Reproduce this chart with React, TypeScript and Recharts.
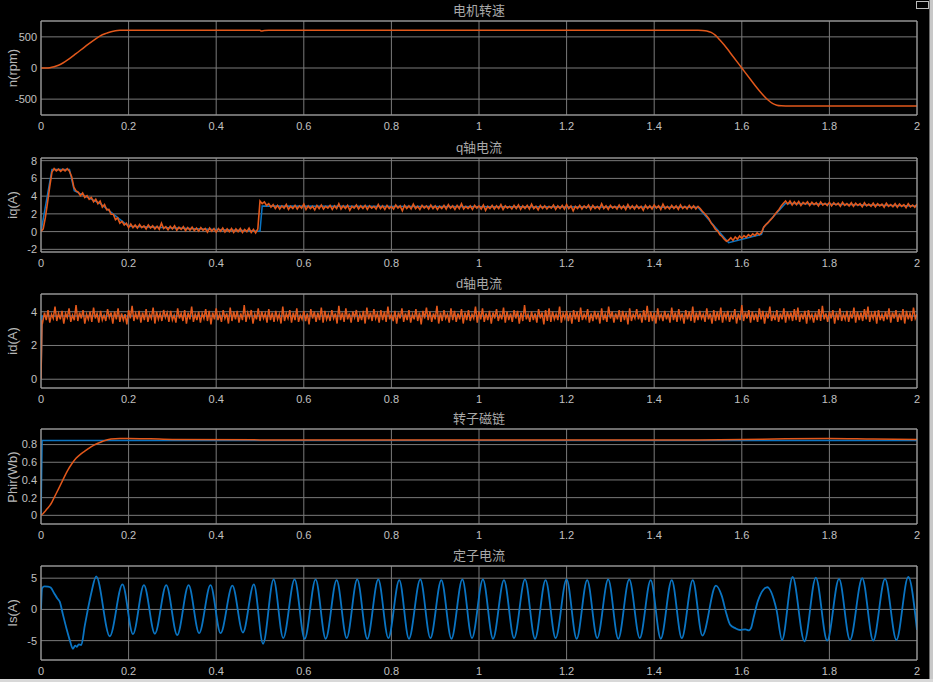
import React from "react";
import { LineChart, Line, XAxis, YAxis, CartesianGrid, ReferenceLine } from "recharts";

const ORANGE = "#e2581b";
const BLUE = "#0a74c2";
const GRID = "#7a7a7a";
const BOX = "#a0a0a0";
const TEXT = "#c0c0c0";
const FONT = "'Liberation Sans', Arial, sans-serif";
const CJK = "'Liberation Sans', 'Noto Sans CJK SC', sans-serif";

const timeTicks = [0, 0.2, 0.4, 0.6, 0.8, 1, 1.2, 1.4, 1.6, 1.8, 2];

// 电机转速
const speedTime = [0, 0.01, 0.02, 0.03, 0.04, 0.05, 0.06, 0.08, 0.1, 0.12, 0.14, 0.15, 0.16, 0.17, 0.18, 0.19, 0.2, 0.3, 0.5, 0.503, 0.51, 0.52, 1.5, 1.51, 1.52, 1.53, 1.54, 1.55, 1.56, 1.58, 1.6, 1.62, 1.64, 1.65, 1.66, 1.67, 1.68, 1.69, 1.7, 2];
const speedValue = [0, 1, 5, 20, 45, 80, 125, 230, 340, 445, 535, 560, 582, 597, 605, 608, 608, 606, 607, 593, 601, 605, 606, 604, 596, 572, 525, 450, 368, 185, 0, -185, -365, -445, -515, -568, -598, -608, -610, -610];

// q轴电流, sampled every 5 ms
const iqStep = 0.005;
const iqValue = [
  0, 0.3, 1.6, 3.3, 5.1, 6.7, 7.1, 6.85, 7.05, 6.8, 7.05, 6.85, 7.1, 6.8, 6.2, 5.0, 4.6,
  4.45, 4.05, 4.35, 3.85, 4.05, 3.65, 3.85, 3.35, 3.65, 3.15, 3.45, 2.75, 3.05, 2.45, 2.5, 1.95, 1.95, 1.35, 1.55, 0.95, 1.15, 0.75, 0.95, 0.45,
  0.85, 0.45, 0.75, 0.4, 0.8, 0.45, 0.65, 0.3, 0.75, 0.4,
  0.65, 0.3, 0.6, 0.25, 0.95, 0.35, 0.55, 0.2, 0.6, 0.3,
  0.65, 0.15, 0.5, 0.25, 0.55, 0.1, 0.45, 0.15, 0.5, 0.1,
  0.4, 0.05, 0.45, 0.15, 0.35, -0.05, 0.4, 0.05, 0.35, -0.05,
  0.35, 0.05, 0.4, -0.05, 0.3, 0.0, 0.35, -0.1, 0.3, 0.0,
  0.35, -0.1, 0.25, 0.0, 0.4, -0.1, 0.25, -0.15, 0.3,
  3.45, 3.15, 3.35, 2.95, 3.15, 2.75, 3.05,
  2.6, 2.95, 2.55, 2.9, 2.65, 3.05, 2.5, 2.85, 2.6, 2.95,
  2.55, 2.9, 2.65, 3.1, 2.5, 2.9, 2.6, 2.85, 2.45, 2.95,
  2.6, 3.0, 2.55, 2.85, 2.65, 2.95, 2.5, 2.9, 2.6, 3.15,
  2.55, 2.9, 2.6, 2.95, 2.4, 2.85, 2.65, 3.0, 2.55, 2.9,
  2.6, 2.95, 2.5, 2.9, 2.65, 2.85, 2.55, 3.05, 2.6, 2.9,
  2.5, 2.95, 2.6, 2.85, 2.55, 3.0, 2.65, 2.9, 2.35, 2.95,
  2.6, 2.9, 2.55, 3.1, 2.6, 2.85, 2.5, 2.95, 2.65, 2.9,
  2.55, 3.0, 2.6, 2.9, 2.5, 2.85, 2.6, 2.95, 2.55, 3.05,
  2.65, 2.9, 2.5, 2.95, 2.6, 3.15, 2.55, 2.85, 2.6, 2.9,
  2.5, 2.95, 2.65, 2.9, 2.55, 3.0, 2.4, 2.85, 2.6, 2.95,
  2.55, 2.9, 2.6, 3.05, 2.5, 2.9, 2.65, 2.85, 2.55, 2.95,
  2.6, 3.0, 2.5, 2.9, 2.6, 2.95, 2.55, 3.1, 2.6, 2.85,
  2.45, 2.95, 2.6, 2.9, 2.55, 2.85, 2.65, 3.0, 2.5, 2.9,
  2.6, 2.95, 2.55, 3.05, 2.6, 2.9, 2.35, 2.85, 2.6, 2.95,
  2.55, 2.9, 2.65, 3.0, 2.5, 2.95, 2.6, 2.85, 2.55, 3.15,
  2.6, 2.9, 2.5, 2.95, 2.65, 2.85, 2.55, 3.0, 2.6, 2.9,
  2.5, 3.05, 2.6, 2.9, 2.55, 2.95, 2.6, 2.85, 2.4, 2.95,
  2.6, 2.9, 2.55, 3.0, 2.65, 2.9, 2.5, 3.1, 2.6, 2.85,
  2.55, 2.95, 2.6, 2.9, 2.5, 3.0, 2.6, 2.85, 2.55, 2.95,
  2.6, 2.9, 2.55, 2.85,
  2.6, 2.3, 2.05, 1.75, 1.45, 0.95, 0.65, 0.25, 0.05, -0.35, -0.55, -0.85, -1.1,
  -0.95, -0.7, -1.0, -0.6, -0.85, -0.5, -0.75, -0.45, -0.65, -0.35, -0.55, -0.25, -0.45, -0.15, -0.35, -0.1,
  0.5, 0.8, 1.0, 1.3, 1.55, 1.9, 2.2, 2.5, 2.9, 3.2, 3.45,
  3.1, 3.45, 3.0, 3.35, 3.05, 3.4, 2.95, 3.3, 3.1, 3.35,
  2.95, 3.3, 3.05, 3.25, 2.9, 3.35, 3.0, 3.2, 2.95, 3.3,
  2.9, 3.25, 3.0, 3.2, 2.85, 3.3, 2.95, 3.15, 2.9, 3.25,
  2.85, 3.2, 2.95, 3.15, 2.8, 3.25, 2.9, 3.1, 2.85, 3.2,
  2.8, 3.15, 2.9, 3.1, 2.75, 3.2, 2.85, 3.05, 2.8, 3.15,
  2.75, 3.1, 2.85, 3.05, 2.7, 3.15, 2.8, 3.0, 2.75, 3.1,
];
const iqRefTime = [0, 0.025, 0.065, 0.076, 0.134, 0.2, 0.5, 0.505, 1.5, 1.57, 1.645, 1.65, 1.7, 2];
const iqRefValue = [0, 7, 7, 4.6, 3.2, 0.6, 0.05, 2.9, 2.75, -1.25, -0.3, 0.5, 3.2, 2.9];

// d轴电流, sampled every 4 ms after the start step
const idStartTime = [0, 0.0025];
const idStartValue = [0, 3.5];
const idStep = 0.004;
const idNoise = [
  3.4, 3.95, 3.5, 4.1, 3.35, 3.85, 3.6, 4.3, 3.45, 3.9,
  3.55, 4.05, 3.3, 3.9, 3.65, 4.2, 3.4, 3.8, 3.5, 4.4,
  3.45, 3.95, 3.6, 4.1, 3.3, 3.85, 3.55, 4.0, 3.4, 4.25,
  3.6, 3.9, 3.35, 4.05, 3.5, 3.8, 3.45, 4.15, 3.65, 3.95,
  3.3, 4.0, 3.55, 4.2, 3.4, 3.9, 3.5, 3.85, 3.25, 4.1,
  3.6, 4.35, 3.45, 3.9, 3.55, 4.05, 3.35, 3.95, 3.5, 4.15,
  3.4, 3.85, 3.6, 4.25, 3.3, 4.0, 3.55, 3.9, 3.45, 4.1,
  3.65, 3.95, 3.4, 4.05, 3.5, 3.8, 3.35, 4.2, 3.6, 3.9,
  3.45, 4.1, 3.3, 3.95, 3.55, 4.3, 3.4, 3.85, 3.5, 4.0,
  3.35, 3.9, 3.6, 4.15, 3.45, 4.05, 3.25, 3.95, 3.55, 4.2,
  3.5, 3.85, 3.4, 4.1, 3.6, 3.9, 3.3, 4.25, 3.45, 4.0,
  3.55, 4.05, 3.35, 3.9, 3.5, 4.4, 3.4, 3.95, 3.65, 4.1,
  3.3, 3.85, 3.55, 4.2, 3.45, 4.0, 3.6, 3.9, 3.35, 4.15,
  3.5, 3.95, 3.4, 4.05, 3.55, 3.85, 3.3, 4.3, 3.45, 3.9,
  3.6, 4.1, 3.35, 3.95, 3.5, 4.2, 3.4, 3.8, 3.55, 4.05,
  3.45, 3.9, 3.25, 4.15, 3.6, 4.0, 3.4, 3.95, 3.5, 4.25,
  3.35, 4.05, 3.55, 3.85, 3.45, 4.1, 3.6, 3.9, 3.3, 4.35,
  3.5, 3.95, 3.4, 4.2, 3.55, 3.9, 3.35, 4.0, 3.65, 4.1,
  3.4, 3.85, 3.5, 4.05, 3.3, 4.25, 3.55, 3.95, 3.45, 4.15,
  3.6, 3.9, 3.35, 4.1, 3.5, 4.0, 3.4, 4.3, 3.55, 3.85,
  3.45, 4.05, 3.3, 3.95, 3.6, 4.2, 3.4, 3.9, 3.5, 4.1,
  3.35, 3.85, 3.55, 4.15, 3.45, 3.95, 3.25, 4.05, 3.6, 4.25,
  3.5, 4.0, 3.4, 3.9, 3.55, 4.35, 3.3, 3.95, 3.45, 4.1,
  3.6, 3.85, 3.35, 4.2, 3.5, 4.05, 3.4, 3.9, 3.55, 4.15,
  3.3, 3.95, 3.5, 4.1, 3.45, 3.85, 3.6, 4.3, 3.35, 4.0,
  3.55, 4.2, 3.4, 3.9, 3.5, 4.05, 3.3, 3.95, 3.6, 4.15,
  3.45, 3.85, 3.55, 4.25, 3.35, 4.0, 3.5, 3.9, 3.4, 4.1,
  3.6, 4.05, 3.3, 3.95, 3.45, 4.4, 3.55, 3.85, 3.4, 4.0,
  3.5, 3.9, 3.35, 4.15, 3.6, 3.95, 3.25, 4.1, 3.45, 4.2,
  3.4, 4.0, 3.55, 3.85, 3.5, 4.3, 3.35, 3.9, 3.6, 4.05,
  3.45, 3.95, 3.3, 4.1, 3.55, 4.0, 3.4, 4.25, 3.5, 3.85,
  3.6, 4.15, 3.35, 3.9, 3.45, 4.05, 3.55, 3.95, 3.3, 4.2,
  3.5, 3.85, 3.4, 4.3, 3.6, 4.0, 3.35, 3.9, 3.55, 4.1,
  3.4, 4.05, 3.5, 3.95, 3.25, 4.2, 3.45, 3.85, 3.6, 4.15,
  3.55, 3.9, 3.35, 4.1, 3.5, 4.35, 3.4, 4.0, 3.45, 3.95,
  3.3, 4.2, 3.6, 3.85, 3.45, 4.05, 3.55, 3.9, 3.35, 4.25,
  3.5, 3.95, 3.4, 4.15, 3.6, 3.9, 3.3, 4.1, 3.55, 4.0,
  3.45, 4.3, 3.35, 3.95, 3.5, 4.05, 3.6, 3.85, 3.4, 4.2,
  3.55, 3.9, 3.3, 4.1, 3.45, 4.0, 3.5, 4.25, 3.35, 3.95,
  3.6, 4.05, 3.4, 3.85, 3.55, 4.15, 3.3, 3.9, 3.5, 4.4,
  3.45, 3.95, 3.6, 4.1, 3.35, 4.0, 3.5, 3.9, 3.4, 4.2,
  3.55, 4.05, 3.3, 3.95, 3.6, 4.3, 3.45, 3.85, 3.5, 4.1,
  3.4, 3.9, 3.55, 4.2, 3.35, 4.0, 3.6, 3.95, 3.45, 4.15,
  3.5, 4.25, 3.4, 3.9, 3.55, 4.05, 3.3, 4.1, 3.6, 3.85,
  3.35, 3.95, 3.5, 4.15, 3.45, 4.35, 3.55, 3.9, 3.4, 4.0,
  3.6, 4.1, 3.3, 3.95, 3.5, 4.2, 3.45, 3.85, 3.55, 4.05,
  3.4, 3.9, 3.6, 4.25, 3.35, 4.0, 3.5, 3.95, 3.45, 4.15,
  3.55, 4.3, 3.4, 3.9, 3.6, 4.05, 3.3, 4.1, 3.5, 3.85,
  3.45, 4.0, 3.55, 4.2, 3.35, 3.95, 3.6, 4.1, 3.4, 3.9,
  3.5, 4.15, 3.3, 4.05, 3.55, 3.9, 3.45, 4.25, 3.6, 3.85,
];
const idRefTime = [0, 0.0025, 2];
const idRefValue = [0, 3.75, 3.75];

// 转子磁链
const phirTime = [0, 0.005, 0.01, 0.015, 0.02, 0.025, 0.03, 0.04, 0.05, 0.06, 0.07, 0.08, 0.09, 0.1, 0.11, 0.12, 0.13, 0.14, 0.15, 0.16, 0.18, 0.2, 0.25, 0.3, 0.5, 1.0, 1.5, 1.6, 1.7, 1.8, 1.9, 2];
const phirValue = [0, 0.02, 0.05, 0.08, 0.11, 0.15, 0.2, 0.3, 0.4, 0.5, 0.58, 0.645, 0.69, 0.725, 0.76, 0.79, 0.815, 0.835, 0.852, 0.862, 0.87, 0.87, 0.865, 0.858, 0.853, 0.852, 0.853, 0.857, 0.865, 0.868, 0.862, 0.858];
const phirRefTime = [0, 0.0025, 2];
const phirRefValue = [0, 0.845, 0.845];

// 定子电流 (peaks, troughs and a few shape points)
const isTime = [
  0, 0.0025, 0.008, 0.016, 0.022, 0.03, 0.037, 0.043, 0.05, 0.058, 0.066, 0.073, 0.078, 0.082, 0.086, 0.092, 0.1, 0.107, 0.116, 0.126,
  0.157, 0.186, 0.21, 0.235, 0.26, 0.286, 0.311, 0.337, 0.361, 0.387, 0.41, 0.437, 0.461, 0.486,
  0.507, 0.531, 0.553, 0.579, 0.602, 0.627, 0.65, 0.675, 0.698, 0.722, 0.745, 0.77,
  0.793, 0.818, 0.84, 0.866, 0.889, 0.914, 0.937, 0.962, 0.984, 1.009, 1.032, 1.057,
  1.08, 1.105, 1.128, 1.152, 1.175, 1.2, 1.223, 1.247, 1.27, 1.295, 1.318, 1.343,
  1.367, 1.392, 1.415, 1.44, 1.463, 1.488, 1.51,
  1.541, 1.554, 1.565, 1.573, 1.585, 1.596, 1.608, 1.616, 1.621, 1.627, 1.637, 1.658, 1.679, 1.692,
  1.716, 1.743, 1.769, 1.795, 1.822, 1.847, 1.875, 1.9, 1.927, 1.953, 1.98, 2,
];
const isValue = [
  0, 3.4, 3.7, 3.65, 3.5, 2.6, 1.8, 1.2, -0.8, -3.0, -5.0, -6.3, -5.8, -6.0, -5.6, -5.7, -2.6, 0, 3.0, 5.3,
  -4.3, 4.0, -3.95, 3.9, -3.9, 3.9, -4.1, 3.9, -3.8, 3.9, -3.8, 3.8, -3.7, 4.0,
  -5.5, 4.8, -4.6, 4.8, -4.7, 4.8, -4.7, 4.7, -4.6, 4.8, -4.7, 4.8,
  -4.6, 4.7, -4.7, 4.8, -4.6, 4.7, -4.7, 4.8, -4.6, 4.8, -4.7, 4.7,
  -4.6, 4.8, -4.7, 4.7, -4.6, 4.8, -4.7, 4.7, -4.6, 4.8, -4.7, 4.8,
  -4.6, 4.7, -4.7, 4.7, -4.6, 4.7, -4.2,
  3.8, 2.2, -0.75, -2.4, -3.0, -3.3, -3.2, -3.35, -3.0, -1.3, 1.4, 3.55, 0, -4.9,
  5.2, -5.1, 5.1, -5.0, 4.9, -4.9, 5.0, -5.0, 4.9, -4.9, 5.2, -3.3,
];

const zip = (t: number[], v: number[]) => t.map((x, i) => ({ t: x, v: v[i] }));
const grid = (step: number, v: number[], offset = 0) => v.map((y, i) => ({ t: (i + offset) * step, v: y }));

const speedData = zip(speedTime, speedValue);
const iqData = grid(iqStep, iqValue);
const iqRefData = zip(iqRefTime, iqRefValue);
const idData = [...zip(idStartTime, idStartValue), ...grid(idStep, idNoise, 1)];
const idRefData = zip(idRefTime, idRefValue);
const phirData = zip(phirTime, phirValue);
const phirRefData = zip(phirRefTime, phirRefValue);
const isData = zip(isTime, isValue);

type PanelProps = {
  top: number;
  plotH: number;
  title: string;
  yLabel: string;
  domain: [number, number];
  yTicks: number[];
  children: React.ReactNode;
};

function Panel({ top, plotH, title, yLabel, domain, yTicks, children }: PanelProps) {
  const H = 21 + plotH + 20;
  const tick = { fill: TEXT, fontSize: 11, fontFamily: FONT };
  return (
    <div style={{ position: "absolute", left: 0, top, width: 933, height: H }}>
      <LineChart width={933} height={H} margin={{ top: 21, right: 16, bottom: 0, left: 0 }}>
        <CartesianGrid stroke={GRID} strokeWidth={1} />
        <XAxis
          type="number"
          dataKey="t"
          domain={[0, 2]}
          ticks={timeTicks}
          interval={0}
          allowDataOverflow
          height={20}
          tickLine={false}
          axisLine={false}
          tickSize={0}
          tickMargin={7}
          tick={tick}
        />
        <YAxis
          type="number"
          domain={domain}
          ticks={yTicks}
          interval={0}
          allowDataOverflow
          width={41}
          tickLine={false}
          axisLine={false}
          tickSize={0}
          tickMargin={4}
          tick={tick}
        />
        {children}
        <ReferenceLine x={0} stroke={BOX} />
        <ReferenceLine x={2} stroke={BOX} />
        <ReferenceLine y={domain[0]} stroke={BOX} />
        <ReferenceLine y={domain[1]} stroke={BOX} />
      </LineChart>
      <div
        style={{
          position: "absolute",
          left: 41,
          width: 876,
          top: 3,
          textAlign: "center",
          fontSize: 13,
          lineHeight: "16px",
          color: "#a8a8a8",
          fontFamily: CJK,
        }}
      >
        {title}
      </div>
      <div
        style={{
          position: "absolute",
          left: 12,
          top: 21 + plotH / 2,
          transform: "translate(-50%, -50%) rotate(-90deg)",
          whiteSpace: "nowrap",
          fontSize: 13,
          color: "#b8b8b8",
          fontFamily: FONT,
        }}
      >
        {yLabel}
      </div>
    </div>
  );
}

export default function App() {
  return (
    <div style={{ position: "absolute", left: 0, top: 0, width: 933, height: 682, background: "#000", overflow: "hidden" }}>
      <Panel top={0} plotH={94} title="电机转速" yLabel="n(rpm)" domain={[-755, 755]} yTicks={[-500, 0, 500]}>
        <Line data={speedData} dataKey="v" type="monotone" stroke={ORANGE} strokeWidth={1.5} dot={false} isAnimationActive={false} />
      </Panel>
      <Panel top={137} plotH={94} title="q轴电流" yLabel="iq(A)" domain={[-2.3, 8.3]} yTicks={[-2, 0, 2, 4, 6, 8]}>
        <Line data={iqRefData} dataKey="v" type="linear" stroke={BLUE} strokeWidth={1.5} dot={false} isAnimationActive={false} />
        <Line data={iqData} dataKey="v" type="linear" stroke={ORANGE} strokeWidth={1.6} dot={false} isAnimationActive={false} />
      </Panel>
      <Panel top={273} plotH={94} title="d轴电流" yLabel="id(A)" domain={[-0.52, 5.05]} yTicks={[0, 2, 4]}>
        <Line data={idRefData} dataKey="v" type="linear" stroke={BLUE} strokeWidth={1.5} dot={false} isAnimationActive={false} />
        <Line data={idData} dataKey="v" type="linear" stroke={ORANGE} strokeWidth={1.5} dot={false} isAnimationActive={false} />
      </Panel>
      <Panel top={408} plotH={95} title="转子磁链" yLabel="Phir(Wb)" domain={[-0.098, 0.976]} yTicks={[0, 0.2, 0.4, 0.6, 0.8]}>
        <Line data={phirRefData} dataKey="v" type="linear" stroke={BLUE} strokeWidth={1.5} dot={false} isAnimationActive={false} />
        <Line data={phirData} dataKey="v" type="monotone" stroke={ORANGE} strokeWidth={1.5} dot={false} isAnimationActive={false} />
      </Panel>
      <Panel top={545} plotH={94} title="定子电流" yLabel="Is(A)" domain={[-8.1, 6.95]} yTicks={[-5, 0, 5]}>
        <Line data={isData} dataKey="v" type="monotone" stroke={BLUE} strokeWidth={1.8} dot={false} isAnimationActive={false} />
      </Panel>
      <div style={{ position: "absolute", left: 916, top: 1, width: 13, height: 8, border: "1px solid #bbb", boxSizing: "border-box" }} />
      <div style={{ position: "absolute", left: 929, top: 0, width: 1, height: 682, background: "#6a6a6a" }} />
      <div style={{ position: "absolute", left: 930, top: 0, width: 3, height: 682, background: "#c8c8c8" }} />
      <div style={{ position: "absolute", left: 0, top: 679, width: 933, height: 3, background: "#d8d8d8" }} />
    </div>
  );
}
